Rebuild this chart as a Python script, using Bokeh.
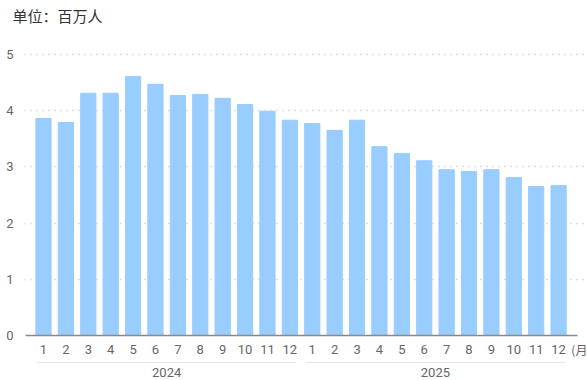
from bokeh.plotting import figure
from bokeh.models import ColumnDataSource, Range1d, FixedTicker
from bokeh.core.properties import value
from bokeh.embed import file_html
from bokeh.resources import INLINE

# Monthly figures, millions of people
years = ["2024", "2025"]
months = [str(m) for m in range(1, 13)]
values_2024 = [3.86, 3.79, 4.31, 4.31, 4.61, 4.47, 4.27, 4.29, 4.22, 4.11, 3.99, 3.83]
values_2025 = [3.77, 3.65, 3.83, 3.36, 3.24, 3.11, 2.95, 2.92, 2.95, 2.81, 2.65, 2.67]
y_ticks = [0, 1, 2, 3, 4, 5]

values = values_2024 + values_2025
xs = list(range(1, len(values) + 1))
labels = months + months

BAR = "#99CCFF"
GRAY = "#666666"
NUM_FONT = value("Roboto")
CJK_FONT = value("Noto Sans CJK SC")

p = figure(width=587, height=380, output_backend="svg", toolbar_location=None,
           x_range=Range1d(0.152, 25.29), y_range=Range1d(-0.80, 5.48),
           title="单位：百万人", min_border_left=24, min_border_right=0,
           min_border_top=0, min_border_bottom=0)
p.outline_line_color = None
p.background_fill_color = "white"
p.border_fill_color = "white"

p.title.text_font = "Noto Sans CJK SC"
p.title.text_font_size = "15px"
p.title.text_font_style = "normal"
p.title.text_color = "#333333"
p.title.offset = -12
p.title.standoff = 4

p.xaxis.visible = False
p.xgrid.visible = False

ax = p.yaxis[0]
ax.ticker = FixedTicker(ticks=y_ticks)
ax.axis_line_color = None
ax.major_tick_line_color = None
ax.minor_tick_line_color = None
ax.major_label_text_font = "Roboto"
ax.major_label_text_font_size = "13px"
ax.major_label_text_color = GRAY
ax.major_label_standoff = 5

p.ygrid.ticker = FixedTicker(ticks=y_ticks[1:])
p.ygrid.grid_line_color = "#c0c0c0"
p.ygrid.grid_line_dash = "1 5"
p.ygrid.grid_line_width = 1.3

src = ColumnDataSource(dict(x=xs, top=values, label=labels))
p.vbar(x="x", top="top", width=0.68, bottom=0, source=src,
       fill_color=BAR, line_color=BAR, line_width=1)

# baseline
p.segment(x0=[0.2], y0=[0], x1=[24.84], y1=[0], line_color="#8a8a8a", line_width=1.5)

# month labels
p.text(x="x", y=-0.25, text="label", source=src, text_align="center",
       text_baseline="middle", text_font=NUM_FONT, text_font_size="13px",
       text_color=GRAY)
p.text(x=[24.57], y=[-0.25], text=["(月)"], text_align="left",
       text_baseline="middle", text_font=CJK_FONT, text_font_size="12px",
       text_color=GRAY)

# year groups
n = len(months)
starts = [1 + i * n for i in range(len(years))]
ends = [s + n - 1 for s in starts]
p.segment(x0=[s - 0.3 for s in starts], y0=-0.48, x1=[e + 0.3 for e in ends], y1=-0.48,
          line_color="#e6e6e6", line_width=1)
p.text(x=[(s + e) / 2 for s, e in zip(starts, ends)], y=-0.66, text=years,
       text_align="center", text_baseline="middle", text_font=NUM_FONT,
       text_font_size="13px", text_color=GRAY)

open("out.html", "w").write(file_html(p, INLINE))
